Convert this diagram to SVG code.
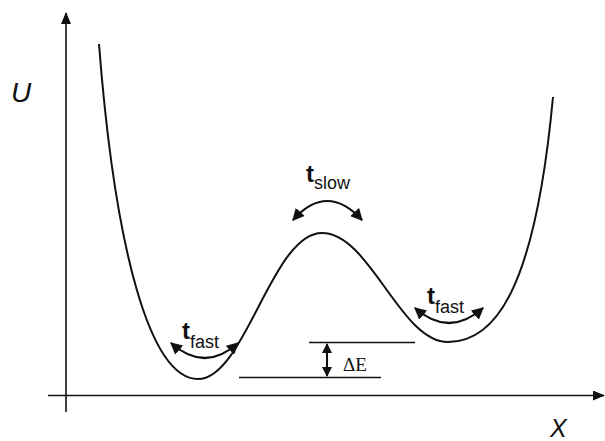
<svg xmlns="http://www.w3.org/2000/svg" width="605" height="441" viewBox="0 0 605 441">
<style>
.ax{stroke:#111;stroke-width:1.6;fill:none}
.crv{stroke:#111;stroke-width:2;fill:none}
.arc{stroke:#111;stroke-width:2.2;fill:none;marker-start:url(#ah);marker-end:url(#ah)}
.lvl{stroke:#111;stroke-width:1.4;fill:none}
.t{font-family:"Liberation Sans",Arial,sans-serif;font-weight:bold;font-size:24px;fill:#111}
.sub{font-family:"Liberation Sans",Arial,sans-serif;font-size:18px;fill:#111}
.lab{font-family:"Liberation Sans",Arial,sans-serif;font-style:italic;fill:#111}
.de{font-family:"Liberation Serif","Times New Roman",serif;font-size:19px;fill:#111}
</style>
<defs>
<marker id="ah" viewBox="0 0 10 10" refX="9" refY="5" markerWidth="5.5" markerHeight="5.5" orient="auto-start-reverse">
<path d="M0,0 L10,5 L0,10 z" fill="#111"/>
</marker>
<marker id="axh" viewBox="0 0 12 10" refX="11" refY="5" markerWidth="12" markerHeight="10" orient="auto" markerUnits="userSpaceOnUse">
<path d="M0,0 L12,5 L0,10 z" fill="#111"/>
</marker>
<marker id="dh" viewBox="0 0 10 10" refX="9" refY="5" markerWidth="10" markerHeight="10" orient="auto-start-reverse" markerUnits="userSpaceOnUse">
<path d="M0,0 L10,5 L0,10 z" fill="#111"/>
</marker>
</defs>
<g id="axes">
<line class="ax" x1="66" y1="412" x2="66" y2="13" marker-end="url(#axh)"/>
<line class="ax" x1="48" y1="395.5" x2="604" y2="395.5" marker-end="url(#axh)"/>
<text class="lab" x="11" y="102" font-size="28">U</text>
<text class="lab" x="550" y="437" font-size="25">X</text>
</g>
<g id="potential">
<path class="crv" d="M99,44 C115,250 150,379 198,379 C245,379 272,233 322,233 C370,233 400,342 448,342 C495,342 535,290 553,97"/>
</g>
<g id="connectors">
<path class="arc" d="M171,343 Q205,373 238,343"/>
<path class="arc" d="M415,308 Q449,338 483,308"/>
<path class="arc" d="M293,220 Q327,182 362,220"/>
<line class="lvl" x1="309" y1="342.5" x2="415" y2="342.5"/>
<line class="lvl" x1="239" y1="377.5" x2="381" y2="377.5"/>
<line stroke="#111" stroke-width="2" x1="327" y1="344" x2="327" y2="376" marker-start="url(#dh)" marker-end="url(#dh)"/>
</g>
<g id="label-tfast-left">
<text class="t" x="182" y="339">t</text><text class="sub" x="190" y="348">fast</text>
</g>
<g id="label-tfast-right">
<text class="t" x="427" y="304">t</text><text class="sub" x="435" y="313">fast</text>
</g>
<g id="label-tslow">
<text class="t" x="306" y="182">t</text><text class="sub" x="314" y="189">slow</text>
</g>
<g id="label-dE">
<text class="de" x="343" y="371">ΔE</text>
</g>
</svg>
